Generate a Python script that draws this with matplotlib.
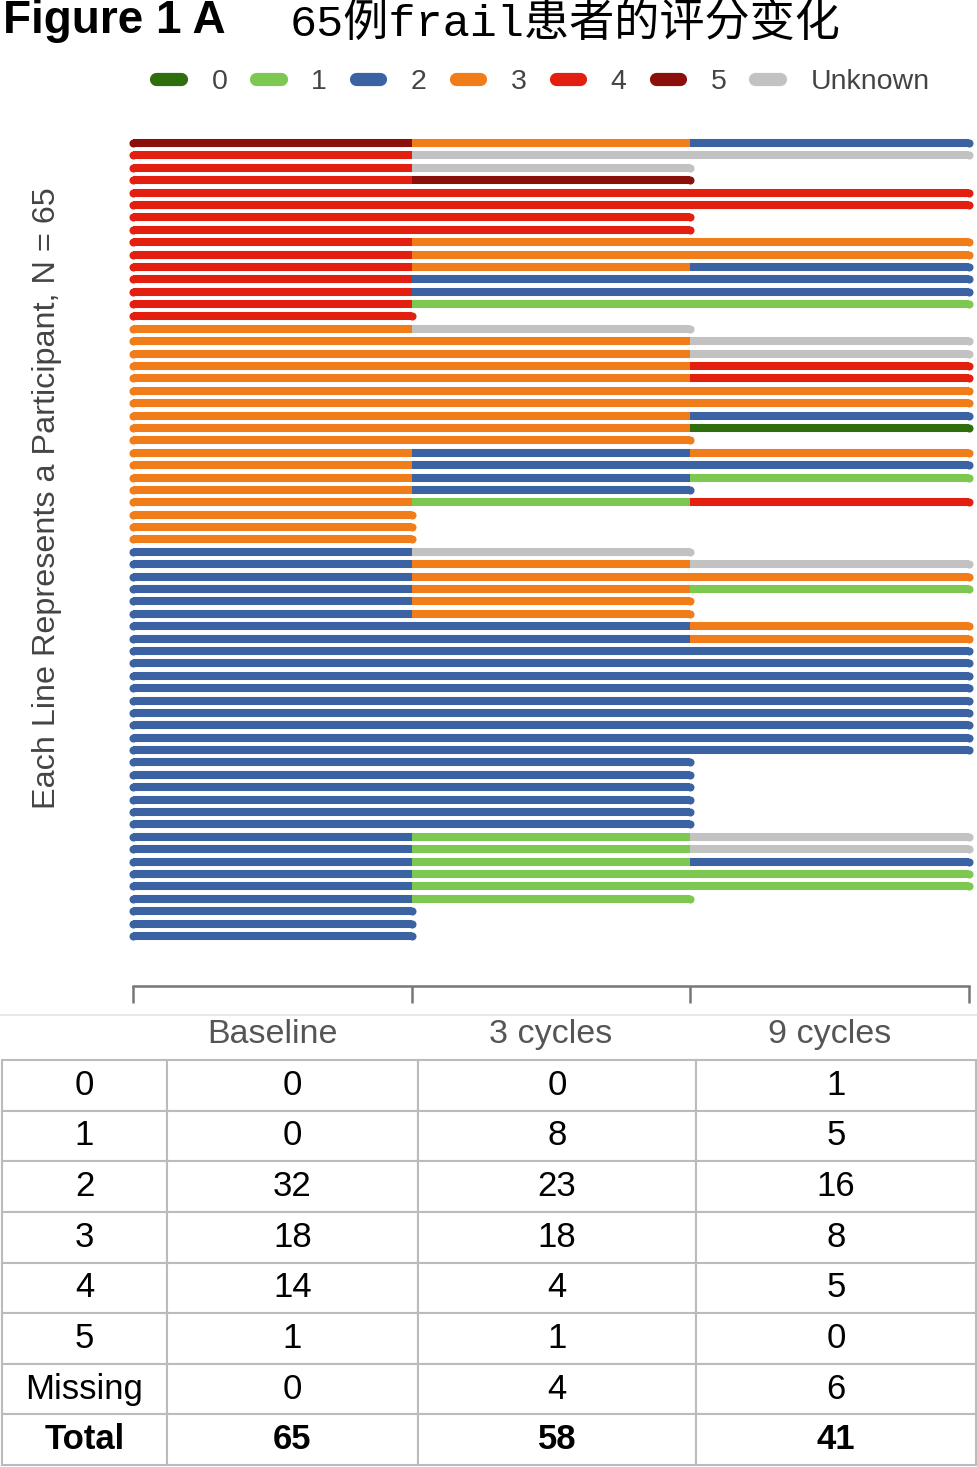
import matplotlib
matplotlib.use('Agg')
import matplotlib.pyplot as plt
from matplotlib.lines import Line2D

plt.rcParams['font.family'] = ['Liberation Sans', 'DejaVu Sans']

# DATA - one character per participant (top to bottom)
# digits = frail score, 'U' = unknown, '-' = no visit
baseline = list("5" "44444444444444" "333333333333333333"
                "22222222222222222222222222222222")
cycle3 = list("3UU54444333221-" "U333333333" "22221---" "U33333"
              "22222222222222222" "111111" "---")
cycle9 = list("2U--44--332221-" "-UU443320-" "321-4---" "-U31--"
              "33222222222------" "UU211-" "---")

legend_keys = ['0', '1', '2', '3', '4', '5', 'U']
legend_labels = ['0', '1', '2', '3', '4', '5', 'Unknown']
colors = {'0': '#2e6e0c', '1': '#7dc850', '2': '#3b63a3', '3': '#f07d1a',
          '4': '#e3200f', '5': '#8b0f0b', 'U': '#c2c2c2'}
time_points = ['Baseline', '3 cycles', '9 cycles']

# TABLE
row_names = ['0', '1', '2', '3', '4', '5', 'Missing', 'Total']
baseline_n = [0, 0, 32, 18, 14, 1, 0, 65]
cycle3_n = [0, 8, 23, 18, 4, 1, 4, 58]
cycle9_n = [1, 5, 16, 8, 5, 0, 6, 41]

W, H = 978, 1467
fig = plt.figure(figsize=(W / 100, H / 100), dpi=100)


def box(x0, y0, x1, y1):
    return [x0 / W, 1 - y1 / H, (x1 - x0) / W, (y1 - y0) / H]


# MAIN CHART
ax = fig.add_axes(box(133, 130, 969, 986))
ax.set_xlim(0, 3)
ax.set_ylim(69.04, -0.049)
lw = 5.8

for i in range(len(baseline)):
    y = i + 1
    vals = [baseline[i], cycle3[i], cycle9[i]]
    last = None
    for j, v in enumerate(vals):
        if v == '-':
            continue
        ax.plot([j, j + 1], [y, y], color=colors[v], lw=lw,
                solid_capstyle='butt', clip_on=False)
        last = (j + 1, v)
    ax.plot(0, y, 'o', ms=lw, mew=0, color=colors[baseline[i]], clip_on=False)
    ax.plot(last[0], y, 'o', ms=lw, mew=0, color=colors[last[1]], clip_on=False)

for s in ['top', 'left', 'right']:
    ax.spines[s].set_visible(False)
ax.spines['bottom'].set_color('#777777')
ax.spines['bottom'].set_linewidth(1.8)
ax.set_yticks([])
ax.set_xticks([0, 1, 2, 3])
ax.set_xticks([0.5, 1.5, 2.5], minor=True)
ax.set_xticklabels(time_points, minor=True)
ax.tick_params(axis='x', which='major', direction='out', length=12.5,
               width=1.8, color='#777777', labelbottom=False)
ax.tick_params(axis='x', which='minor', length=0, pad=24,
               labelsize=24.5, labelcolor='#555555')

fig.text(47 / W, 1 - 498 / H, 'Each Line Represents a Participant, N = 65',
         rotation=90, ha='center', va='center', fontsize=23.3, color='#444444')

# LEGEND
handles = [Line2D([], [], color=colors[k], lw=9.5, solid_capstyle='round')
           for k in legend_keys]
fig.legend(handles, legend_labels, loc='center', bbox_to_anchor=(543 / W, 1 - 82 / H),
           ncol=7, frameon=False, fontsize=20.5, handlelength=0.85,
           handletextpad=1.08, columnspacing=1.02, labelcolor='#444444')

# TITLE
fig.text(3 / W, 1 - 21 / H, 'Figure 1 A', fontsize=33, weight='bold', va='center')
fig.text(290 / W, 1 - 24 / H, '65例frail患者的评分变化', fontsize=32.5, va='center',
         family=['Liberation Mono', 'Noto Sans CJK SC'])

fig.add_artist(Line2D([0, 1], [1 - 1015 / H] * 2, color='#e8e8e8', lw=1.5,
                      transform=fig.transFigure))

# TABLE
tax = fig.add_axes(box(2, 1060, 976, 1465))
tax.axis('off')
cells = [[r, str(a), str(b), str(c)]
         for r, a, b, c in zip(row_names, baseline_n, cycle3_n, cycle9_n)]
widths = [165, 251, 278, 280]
tbl = tax.table(cellText=cells, colWidths=[w / sum(widths) for w in widths],
                cellLoc='center', bbox=[0, 0, 1, 1])
tbl.auto_set_font_size(False)
tbl.set_fontsize(25)
for (r, c), cell in tbl.get_celld().items():
    cell.set_edgecolor('#bbbbbb')
    cell.set_linewidth(1.5)
    if r == len(cells) - 1:
        cell.get_text().set_fontweight('bold')

fig.savefig('out.png', dpi=100)
